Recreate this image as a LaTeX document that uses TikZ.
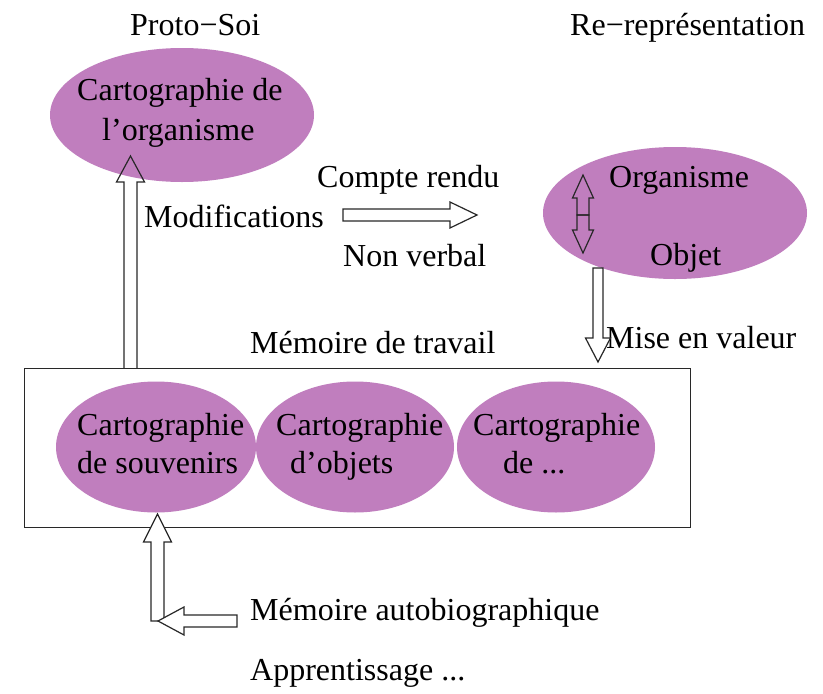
\documentclass[tikz,border=0pt]{standalone}
\usepackage{fontspec}
\setmainfont{Liberation Serif}
\usetikzlibrary{shapes.geometric,calc}
\definecolor{blobfill}{RGB}{192,126,190}
\definecolor{inkline}{RGB}{40,40,40}
\begin{document}
\begin{tikzpicture}[x=1pt,y=-1pt,
  blob/.style={ellipse,fill=blobfill,draw=none,inner sep=0pt},
  txt/.style={anchor=base west,inner sep=0pt,font=\fontsize{32}{38}\selectfont},
  blk/.style={draw=inkline,line width=1.2pt,line join=miter},
  frame/.style={draw=inkline,line width=1.4pt,rectangle,inner sep=0pt}]
\fill[white] (0,0) rectangle (823,694);
\useasboundingbox (0,0) rectangle (823,694);

% ellipses
\node[blob,minimum width=264pt,minimum height=134pt] (e1) at (182,115) {};
\node[blob,minimum width=264pt,minimum height=132pt] (e2) at (675,213) {};
% working memory box
\node[frame,minimum width=666pt,minimum height=159pt,anchor=north west] (wm) at (24,368) {};
\node[blob,minimum width=200pt,minimum height=131pt] (c1) at (156,447) {};
\node[blob,minimum width=198pt,minimum height=131pt] (c2) at (355,447) {};
\node[blob,minimum width=198pt,minimum height=131pt] (c3) at (556,447) {};

% texts
\node[txt] (proto) at (130,35) {Proto−Soi};
\node[txt] (rerep) at (570,35) {Re−représentation};
\node[txt] (e1a) at (77,100) {Cartographie de};
\node[txt] (e1b) at (102,140) {l’organisme};
\node[txt] (compte) at (317,187) {Compte rendu};
\node[txt] (modif) at (144,227) {Modifications};
\node[txt] (nonverb) at (343,266) {Non verbal};
\node[txt] (orga) at (609,187) {Organisme};
\node[txt] (objet) at (650,265) {Objet};
\node[txt] (memtrav) at (250,353) {Mémoire de travail};
\node[txt] (mise) at (606,348) {Mise en valeur};
\node[txt] (c1a) at (77,435) {Cartographie};
\node[txt] (c1b) at (77,473) {de souvenirs};
\node[txt] (c2a) at (276,435) {Cartographie};
\node[txt] (c2b) at (290,473) {d’objets};
\node[txt] (c3a) at (473,435) {Cartographie};
\node[txt] (c3b) at (503,473) {de ...};
\node[txt] (autobio) at (250,620) {Mémoire autobiographique};
\node[txt] (appr) at (250,680) {Apprentissage ...};

% arrow end points
\coordinate (a1b) at (130.5,368);   % on wm top
\coordinate (a1t) at (130.5,156);   % into e1
\coordinate (a2b) at (343,215);
\coordinate (a2t) at (477,215);
\coordinate (a3m) at (583,215);
\coordinate (a3u) at (583,175);
\coordinate (a3d) at (583,253);
\coordinate (a4b) at (598,268);     % on e2 boundary
\coordinate (a4t) at (598,362);
\coordinate (a5b) at (157.5,621);
\coordinate (a5t) at (157.5,514);   % to c1
\coordinate (a6b) at (237,621);
\coordinate (a6t) at (158,621);

% A1: Modifications (wm -> e1)
\draw[blk] ($(a1b)+(-6.5,0)$) -- ($(a1t)+(-6.5,26)$) -- ($(a1t)+(-14,26)$) -- (a1t)
  -- ($(a1t)+(14,26)$) -- ($(a1t)+(6.5,26)$) -- ($(a1b)+(6.5,0)$);
% A2: right arrow
\draw[blk,fill=white] ($(a2b)+(0,-6)$) -- ($(a2t)+(-27,-6)$) -- ($(a2t)+(-27,-13)$) -- (a2t)
  -- ($(a2t)+(-27,13)$) -- ($(a2t)+(-27,6)$) -- ($(a2b)+(0,6)$) -- cycle;
% A3: double arrow inside e2
\draw[blk] ($(a3m)+(-6,0)$) -- ($(a3u)+(-6,23)$) -- ($(a3u)+(-10.5,23)$) -- (a3u)
  -- ($(a3u)+(10.5,23)$) -- ($(a3u)+(6,23)$) -- ($(a3m)+(6,0)$) -- cycle;
\draw[blk] ($(a3m)+(-6,0)$) -- ($(a3d)+(-6,-23)$) -- ($(a3d)+(-10.5,-23)$) -- (a3d)
  -- ($(a3d)+(10.5,-23)$) -- ($(a3d)+(6,-23)$) -- ($(a3m)+(6,0)$) -- cycle;
% A4: Mise en valeur (e2 -> wm)
\draw[blk,fill=white] ($(a4b)+(-5,0)$) -- ($(a4t)+(-5,-24)$) -- ($(a4t)+(-12.5,-24)$) -- (a4t)
  -- ($(a4t)+(12.5,-24)$) -- ($(a4t)+(5,-24)$) -- ($(a4b)+(5,0)$) -- cycle;
% A5: up into c1
\draw[blk,fill=white] ($(a5b)+(-6.5,0)$) -- ($(a5t)+(-6.5,28)$) -- ($(a5t)+(-14,28)$) -- (a5t)
  -- ($(a5t)+(14,28)$) -- ($(a5t)+(6.5,28)$) -- ($(a5b)+(6.5,0)$) -- cycle;
% A6: left arrow from Memoire autobiographique
\draw[blk,fill=white] ($(a6b)+(0,-6)$) -- ($(a6t)+(26,-6)$) -- ($(a6t)+(26,-14)$) -- (a6t)
  -- ($(a6t)+(26,14)$) -- ($(a6t)+(26,6)$) -- ($(a6b)+(0,6)$) -- cycle;
\end{tikzpicture}
\end{document}
